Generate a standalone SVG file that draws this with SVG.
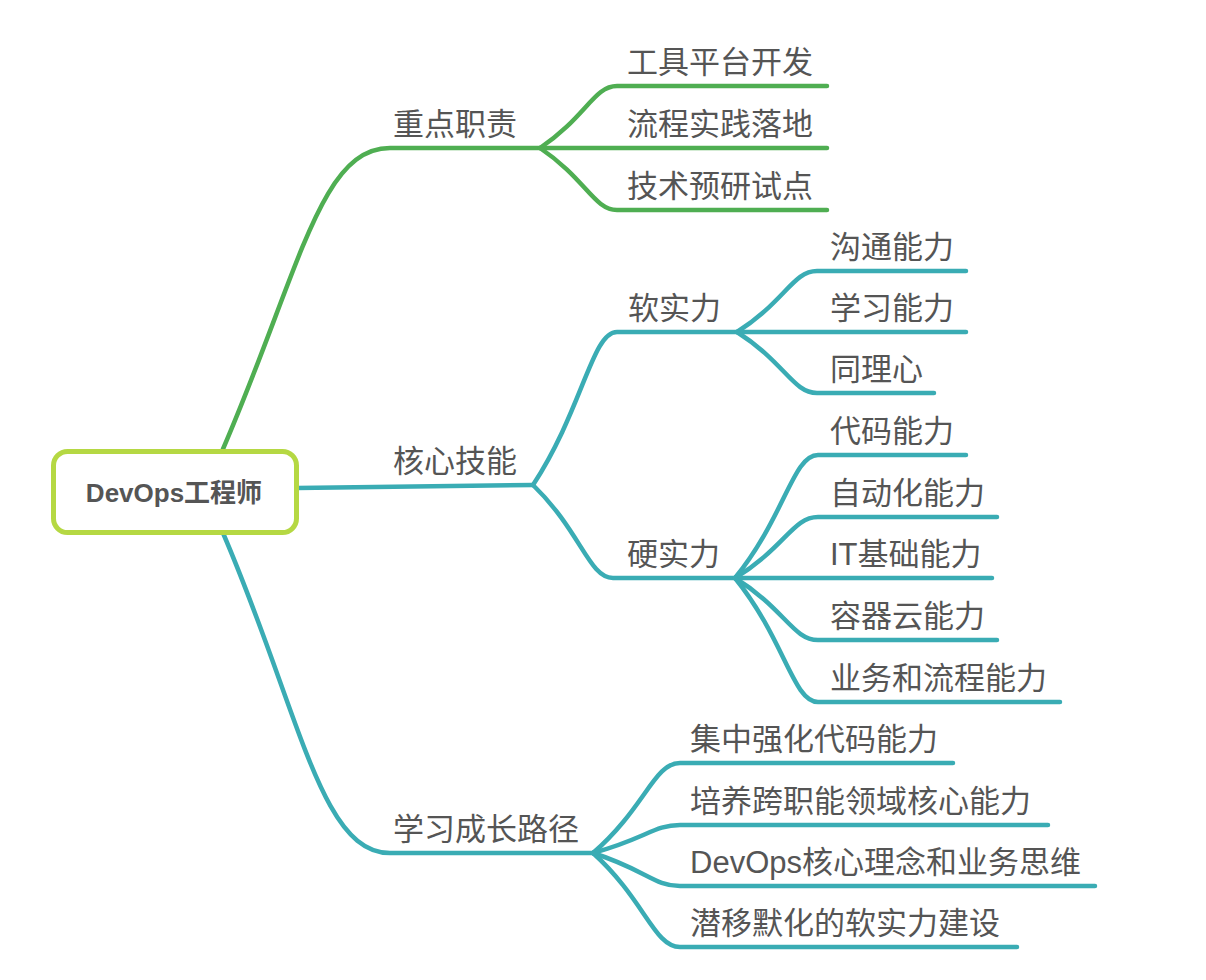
<svg xmlns="http://www.w3.org/2000/svg" width="1206" height="980" viewBox="0 0 1206 980">
<style>
.c{fill:none;stroke-width:4.5;stroke-linecap:round;stroke-linejoin:round}
.g{stroke:#4fae52}
.t{stroke:#3aacb4}
.lb{font-family:"Liberation Sans","Noto Sans CJK SC",sans-serif;font-size:31px;fill:#555}
.root{font-family:"Liberation Sans","Noto Sans CJK SC",sans-serif;font-size:26px;font-weight:bold;fill:#555;text-anchor:middle}
</style>
<rect width="1206" height="980" fill="#fff"/>
<g id="connectors">
<path class="c g" d="M223,449 C300,270 320,148 390,148 L540,148"/>
<path class="c g" d="M540,148 C586,117 594,86 617,86 L827,86"/>
<path class="c g" d="M540,148 L827,148"/>
<path class="c g" d="M540,148 C586,179 594,210 617,210 L827,210"/>
<path class="c t" d="M297,488 L533,485"/>
<path class="c t" d="M533,485 C583,408.5 592,332 617,332 L737,332"/>
<path class="c t" d="M737,332 C785,301.5 793,271 817,271 L966,271"/>
<path class="c t" d="M737,332 L966,332"/>
<path class="c t" d="M737,332 C785,362.5 793,393 817,393 L934,393"/>
<path class="c t" d="M533,485 C581,531.5 589,578 613,578 L735,578"/>
<path class="c t" d="M735,578 C785,516.5 793,455 818,455 L966,455"/>
<path class="c t" d="M735,578 C785,547.5 793,517 818,517 L997,517"/>
<path class="c t" d="M735,578 L992,578"/>
<path class="c t" d="M735,578 C785,609 793,640 818,640 L997,640"/>
<path class="c t" d="M735,578 C785,640 793,702 818,702 L1060,702"/>
<path class="c t" d="M223,533 C300,712 320,853 390,853 L593,853"/>
<path class="c t" d="M593,853 C645,808 654,763 680,763 L953,763"/>
<path class="c t" d="M593,853 C645,839 654,825 680,825 L1048,825"/>
<path class="c t" d="M593,853 C645,869.5 654,886 680,886 L1095,886"/>
<path class="c t" d="M593,853 C645,900 654,947 680,947 L1017,947"/>
</g>
<g id="root">
<rect x="53.5" y="451.5" width="243" height="81" rx="14" fill="#fff" stroke="#b5d843" stroke-width="5"/>
<text class="root" x="174" y="502">DevOps工程师</text>
</g>
<g id="n-zhongdian"><text class="lb" x="393" y="135">重点职责</text></g>
<g id="n-gongju"><text class="lb" x="627" y="73">工具平台开发</text></g>
<g id="n-liucheng"><text class="lb" x="627" y="135">流程实践落地</text></g>
<g id="n-jishu"><text class="lb" x="627" y="197">技术预研试点</text></g>
<g id="n-hexin"><text class="lb" x="393" y="472">核心技能</text></g>
<g id="n-ruan"><text class="lb" x="628" y="319">软实力</text></g>
<g id="n-goutong"><text class="lb" x="830" y="258">沟通能力</text></g>
<g id="n-xuexi"><text class="lb" x="830" y="319">学习能力</text></g>
<g id="n-tongli"><text class="lb" x="830" y="380">同理心</text></g>
<g id="n-ying"><text class="lb" x="627" y="565">硬实力</text></g>
<g id="n-daima"><text class="lb" x="830" y="442">代码能力</text></g>
<g id="n-zidong"><text class="lb" x="830" y="504">自动化能力</text></g>
<g id="n-it"><text class="lb" x="830" y="565">IT基础能力</text></g>
<g id="n-rongqi"><text class="lb" x="830" y="627">容器云能力</text></g>
<g id="n-yewu"><text class="lb" x="830" y="689">业务和流程能力</text></g>
<g id="n-lujing"><text class="lb" x="393" y="840">学习成长路径</text></g>
<g id="n-jizhong"><text class="lb" x="690" y="750">集中强化代码能力</text></g>
<g id="n-peiyang"><text class="lb" x="690" y="812">培养跨职能领域核心能力</text></g>
<g id="n-devops"><text class="lb" x="690" y="873">DevOps核心理念和业务思维</text></g>
<g id="n-qianyi"><text class="lb" x="690" y="934">潜移默化的软实力建设</text></g>
</svg>
